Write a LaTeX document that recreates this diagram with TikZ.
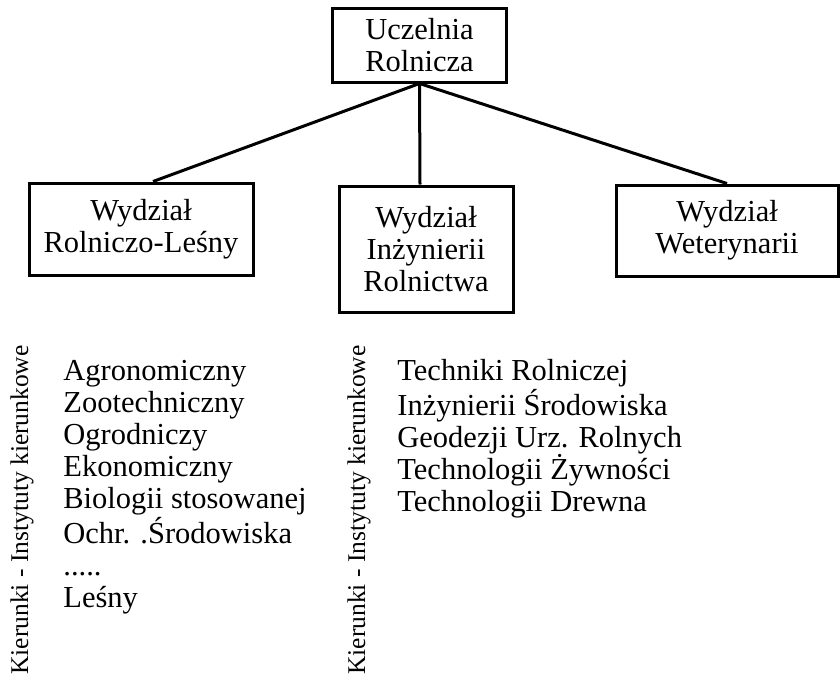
\documentclass[tikz,border=0pt]{standalone}
\usepackage{fontspec}
\setmainfont{Liberation Serif}
\usetikzlibrary{positioning}

\begin{document}
\begin{tikzpicture}[
  x=0.5pt, y=-0.5pt,
  unit/.style={draw, line width=1.5pt, inner sep=0pt, align=center,
               font=\fontsize{15.25}{16}\selectfont},
  link/.style={line width=1.5pt},
  list/.style={anchor=base west, align=left, inner sep=0pt,
               font=\fontsize{15.25}{16}\selectfont},
  side/.style={rotate=90, anchor=base west, inner sep=0pt,
               font=\fontsize{12.75}{14}\selectfont}
]
  \useasboundingbox (0,0) rectangle (840,680);

  % Uczelnia
  \node[unit, minimum width=87pt, minimum height=37pt] (ucz) at (419.5,45) {Uczelnia\\Rolnicza};

  % Wydzialy
  \node[unit, minimum width=112pt, minimum height=46pt] (rl) at (141,229) {Wydział\\Rolniczo-Leśny};
  \node[unit, minimum width=87pt, minimum height=63pt] (irl) at (426,249) {Wydział\\Inżynierii\\Rolnictwa};
  \node[unit, minimum width=111pt, minimum height=45.5pt] (wet) at (727,230.5) {Wydział\\Weterynarii};

  % Polaczenia
  \draw[link] (ucz.south) -- ([xshift=6pt]rl.north);
  \draw[link] (ucz.south) -- ([xshift=-3pt]irl.north);
  \draw[link] (ucz.south) -- (wet.north);

  % Kierunki (base = last line)
  \node[side] (rlside) at (28,675) {Kierunki - Instytuty kierunkowe};
  \node[list] (rllist) at (63,607) {Agronomiczny\\Zootechniczny\\Ogrodniczy\\Ekonomiczny\\Biologii stosowanej\\Ochr. .Środowiska\\.....\\Leśny};

  \node[side] (irlside) at (365,675) {Kierunki - Instytuty kierunkowe};
  \node[list] (irllist) at (397,511) {Techniki Rolniczej\\Inżynierii Środowiska\\Geodezji Urz. Rolnych\\Technologii Żywności\\Technologii Drewna};

\end{tikzpicture}
\end{document}
